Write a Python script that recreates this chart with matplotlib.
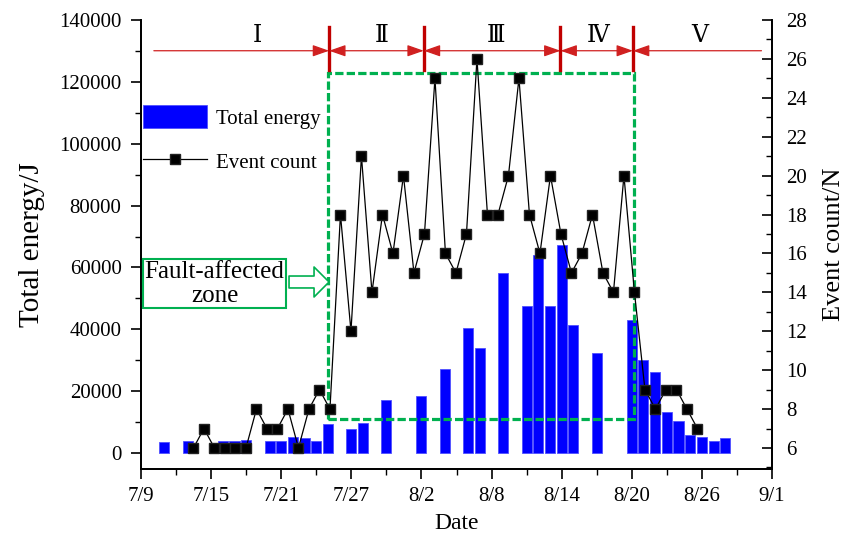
import matplotlib
matplotlib.use("Agg")
import matplotlib.pyplot as plt
from matplotlib.patches import Rectangle, FancyArrowPatch
from matplotlib.ticker import MultipleLocator
import numpy as np

plt.rcParams['font.family'] = ['Liberation Serif', 'DejaVu Serif']

# days counted from 7/9
tick_days = [0, 6, 12, 18, 24, 30, 36, 42, 48, 54]
tick_labels = ['7/9', '7/15', '7/21', '7/27', '8/2', '8/8', '8/14', '8/20', '8/26', '9/1']

# daily total energy (J)
energy_days = [2, 4, 7, 8, 9, 11, 12, 13, 14, 15, 16, 18, 19, 21, 24, 26, 28, 29,
               31, 33, 34, 35, 36, 37, 39, 42, 43, 44, 45, 46, 47, 48, 49, 50]
energy = [3650, 3980, 4000, 4000, 4300, 4000, 4000, 5070, 4750, 3900, 9370,
          7750, 9700, 17100, 18400, 27200, 40400, 33900, 58100, 47500, 64000,
          47500, 67200, 41400, 32300, 42900, 30000, 26200, 13250, 10400, 5800,
          5070, 3980, 4750]

# event counts (plotted evenly spaced between first and last day)
counts = [6, 7, 6, 6, 6, 6, 8, 7, 7, 8, 6, 8, 9, 8, 18, 12, 21, 14, 18, 16,
          20, 15, 17, 25, 16, 15, 17, 26, 18, 18, 20, 25, 18, 16, 20, 17, 15,
          16, 18, 15, 14, 20, 14, 9, 8, 9, 9, 8, 7]
count_first_day, count_last_day = 4.49, 47.62

# zone boundaries (days) and names
zone_bounds = [16.1, 24.2, 35.9, 42.1]
zone_names = ['Ⅰ', 'Ⅱ', 'Ⅲ', 'Ⅳ', 'Ⅴ']
zone_name_days = [10.0, 20.6, 30.4, 39.1, 47.8]

green = '#00b050'
red = '#c00000'

fig = plt.figure(figsize=(8.5, 5.37), dpi=100)
ax = fig.add_axes([141 / 850, 68 / 537, 631 / 850, 449 / 537])
ax2 = ax.twinx()

bars = ax.bar(energy_days, energy, width=0.86, color='#0000ff',
              edgecolor='#5050ff', linewidth=0.6, label='Total energy')
ax.set_xlim(0, 54)
ax.set_ylim(-5170, 140000)
ax.yaxis.set_major_locator(MultipleLocator(20000))
ax.yaxis.set_minor_locator(MultipleLocator(10000))
ax.set_xticks(tick_days)
ax.set_xticklabels(tick_labels)
ax.xaxis.set_minor_locator(MultipleLocator(3))
ax.set_xlabel('Date', fontsize=17, labelpad=5)
ax.set_ylabel('Total energy/J', fontsize=21, labelpad=10)

count_x = np.linspace(count_first_day, count_last_day, len(counts))
line, = ax2.plot(count_x, counts, color='black', lw=0.9, marker='s',
                 markersize=7, markeredgecolor='#222222', zorder=4,
                 label='Event count')
ax2.set_ylim(4.92, 28)
ax2.yaxis.set_major_locator(MultipleLocator(2))
ax2.yaxis.set_minor_locator(MultipleLocator(1))
ax2.set_ylabel('Event count/N', fontsize=19, labelpad=12)

for a in (ax, ax2):
    a.spines['top'].set_visible(False)
    for s in a.spines.values():
        s.set_linewidth(1.3)
ax.tick_params(axis='x', which='major', direction='out', length=7, width=1.2, labelsize=15, pad=6)
ax.tick_params(axis='y', which='major', direction='out', length=7, width=1.2, labelsize=15, pad=7)
ax.tick_params(axis='both', which='minor', direction='out', length=4, width=1.0)
ax2.tick_params(axis='y', which='major', direction='in', length=7, width=1.2, labelsize=15, pad=10)
ax2.tick_params(axis='y', which='minor', direction='in', length=4, width=1.0)

# dashed fault zone box
ax2.add_patch(Rectangle((16.0, 7.47), 26.17, 17.83, fill=False, ec=green,
                        lw=2.3, ls=(0, (2.6, 1.0)), zorder=2))

# zone boundary lines and arrows
for b in zone_bounds:
    ax2.plot([b, b], [25.43, 27.65], color=red, lw=2.4, zorder=3, clip_on=False)
arrow_y = 26.42
segs = [(1.1, zone_bounds[0], '-|>')]
for i in range(3):
    segs.append((zone_bounds[i], zone_bounds[i + 1], '<|-|>'))
segs.append((zone_bounds[3], 53.1, '<|-'))
for x0, x1, st in segs:
    ax2.add_patch(FancyArrowPatch((x0, arrow_y), (x1, arrow_y),
                                  arrowstyle=st + ',head_length=1.0,head_width=0.35',
                                  mutation_scale=10, color='#d02020', lw=0.9,
                                  shrinkA=0, shrinkB=0, zorder=3, clip_on=False))
for name, xd in zip(zone_names, zone_name_days):
    ax2.text(xd, 27.15, name, ha='center', va='center', fontsize=17, clip_on=False)

# annotation box and hollow arrow
ax2.text(0.1165, 0.413, 'Fault-affected\nzone', transform=ax2.transAxes,
         ha='center', va='center', fontsize=18, linespacing=1.12,
         bbox=dict(boxstyle='square,pad=0.06', fc='white', ec=green, lw=1.5))
ax2.add_patch(FancyArrowPatch((0.2346, 0.4165), (0.298, 0.4165),
                              transform=ax2.transAxes,
                              arrowstyle='simple,head_length=1.08,head_width=2.16,tail_width=0.86',
                              mutation_scale=10, fc='white', ec=green, lw=1.2,
                              shrinkA=0, shrinkB=0, zorder=5))

ax2.legend(handles=[bars, line], loc='upper left', bbox_to_anchor=(0.003, 0.81),
           frameon=False, fontsize=15, handlelength=3.1, handleheight=1.3,
           borderpad=0.0, borderaxespad=0.0, handletextpad=0.4, labelspacing=1.0)

fig.savefig('out.png', dpi=100)
